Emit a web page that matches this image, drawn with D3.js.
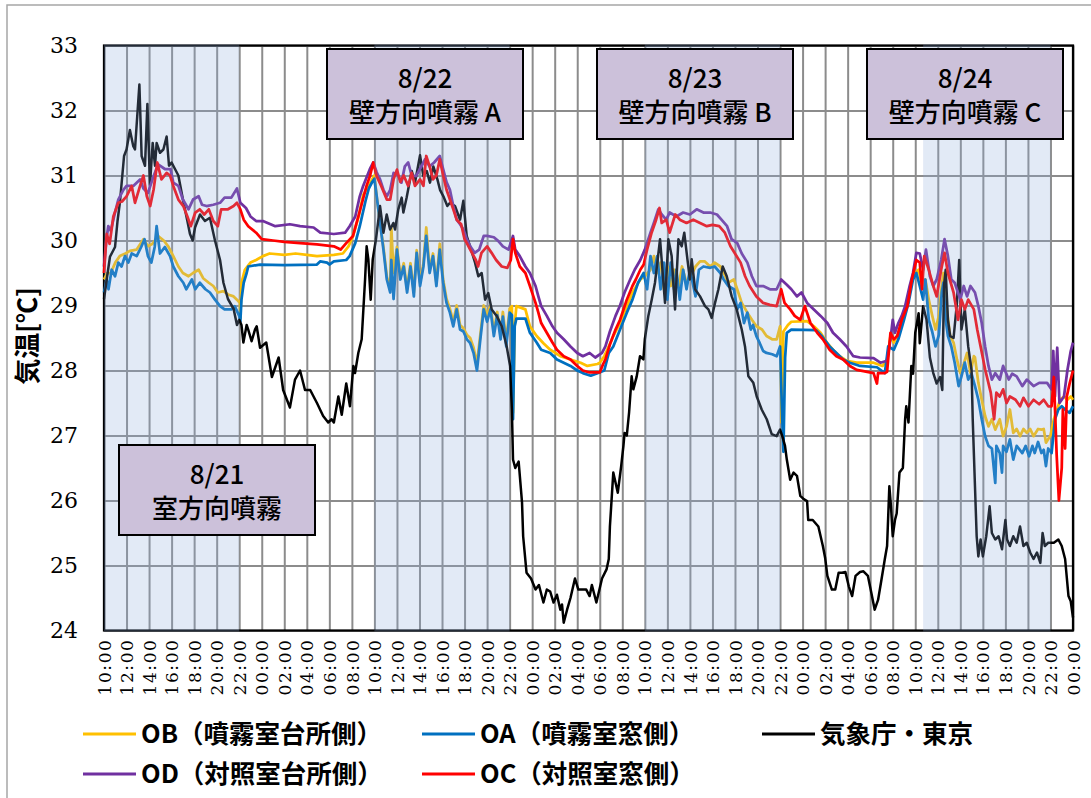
<!DOCTYPE html>
<html>
<head>
<meta charset="utf-8">
<script src="https://cdn.jsdelivr.net/npm/d3@7"></script>
<style>
  html, body { margin: 0; padding: 0; background: #fff; }
  svg { display: block; }
  .serif-label { font-family: "DejaVu Serif", "Liberation Serif", serif; }
</style>
</head>
<body>
<svg id="chart" width="1091" height="798"></svg>
<script>
// Hours are counted from 8/21 10:00; temperatures in °C.
const startTime = new Date(2021, 7, 21, 10, 0);
const spanHours = 86;

const yTicks = [24, 25, 26, 27, 28, 29, 30, 31, 32, 33];

// Spray periods (hours from start)
const sprayPeriods = [[0, 12], [24, 36], [48, 60], [72.7, 84]];

const noteDates = ["8/21", "8/22", "8/23", "8/24"];
const noteLabels = ["室方向噴霧", "壁方向噴霧 A", "壁方向噴霧 B", "壁方向噴霧 C"];

const seriesNames = ["OB（噴霧室台所側）", "OA（噴霧室窓側）", "気象庁・東京", "OD（対照室台所側）", "OC（対照室窓側）"];
const seriesColors = ["#FFC000", "#0070C0", "#000000", "#7030A0", "#FF0000"];

// OB: spray room, kitchen side
const tempOB = [
[0,29.4],[0.3,29.5],[0.6,29.5],[1.0,29.66],[1.4,29.76],[1.9,29.8],[2.3,29.84],[2.9,29.86],[3.5,30.02],[3.9,29.91],[4.3,29.95],[4.8,30.07],[5.3,30.0],[5.7,29.91],[6.15,29.76],[6.6,29.6],[7.0,29.5],[7.5,29.45],[7.9,29.5],[8.4,29.55],[8.8,29.42],[9.3,29.35],[9.7,29.3],[10.1,29.2],[10.6,29.22],[11.0,29.17],[11.5,29.14],[11.8,29.09],[12.05,29.04],[12.1,28.8],[12.2,29.35],[12.5,29.55],[13.0,29.66],[13.5,29.7],[14.1,29.76],[14.7,29.8],[16.0,29.78],[17.0,29.8],[18.0,29.78],[18.9,29.76],[20.4,29.78],[21.2,29.8],[21.7,29.91],[22.1,30.07],[22.6,30.37],[23.0,30.7],[23.5,30.84],[23.8,30.94],[24.0,31.0],[24.2,30.68],[24.5,30.27],[24.8,29.9],[25.1,29.45],[25.4,29.25],[25.5,30.2],[25.7,29.5],[26.0,29.9],[26.3,29.45],[26.6,29.65],[26.9,29.25],[27.2,29.65],[27.5,29.2],[27.75,29.85],[28.05,29.35],[28.35,29.65],[28.6,30.2],[28.9,29.55],[29.2,29.8],[29.5,29.35],[29.8,29.95],[30.1,29.4],[30.4,29.1],[30.7,28.95],[31.0,28.75],[31.3,29.0],[31.6,28.7],[31.9,28.65],[32.2,28.55],[32.5,28.5],[32.8,28.35],[33.1,28.1],[33.4,28.55],[33.7,29.0],[34.0,28.85],[34.3,29.0],[34.6,28.6],[34.9,28.9],[35.2,28.55],[35.4,28.9],[35.7,28.45],[36.0,28.95],[36.2,28.99],[36.3,27.35],[36.45,28.7],[36.6,28.99],[37.4,28.94],[37.8,28.68],[38.4,28.53],[39.0,28.42],[39.6,28.32],[40.5,28.22],[41.4,28.17],[42.3,28.12],[42.9,28.07],[43.8,28.1],[44.0,28.12],[44.4,28.22],[44.8,28.37],[45.2,28.53],[45.8,28.73],[46.4,28.99],[46.9,29.2],[47.6,29.4],[48.0,29.45],[48.5,29.55],[48.8,29.76],[49.1,29.5],[49.4,29.66],[49.7,29.25],[50.0,29.6],[50.3,29.3],[50.6,29.55],[51.0,29.3],[51.3,29.6],[51.7,29.35],[52.2,29.5],[52.5,29.6],[52.9,29.68],[53.3,29.68],[53.8,29.6],[54.2,29.66],[54.7,29.6],[55.0,29.5],[55.4,29.35],[55.9,29.4],[56.2,29.25],[56.6,29.04],[57.1,28.89],[57.5,28.78],[57.9,28.68],[58.4,28.63],[58.8,28.53],[59.3,28.48],[59.7,28.48],[60.0,28.68],[60.15,27.2],[60.3,28.6],[60.7,28.7],[61.0,28.75],[62.4,28.76],[63.0,28.68],[63.6,28.58],[64.2,28.42],[64.7,28.32],[65.3,28.22],[65.9,28.15],[66.8,28.12],[68.3,28.12],[69.1,28.07],[69.5,28.17],[69.8,28.53],[70.1,28.43],[70.5,28.58],[71.0,28.84],[71.4,29.14],[71.8,29.45],[72.3,29.55],[72.6,29.3],[72.9,29.4],[73.2,29.09],[73.5,28.85],[73.8,28.63],[74.1,28.85],[74.35,29.3],[74.5,29.5],[74.8,28.94],[75.1,28.53],[75.4,28.43],[75.7,28.17],[76.0,27.96],[76.3,28.1],[76.6,28.27],[76.9,27.96],[77.2,28.22],[77.3,28.2],[77.6,27.81],[77.9,27.55],[78.2,27.3],[78.5,27.14],[78.8,27.25],[79.1,27.09],[79.5,27.25],[79.8,26.99],[80.1,27.14],[80.4,27.4],[80.7,27.04],[81.0,27.1],[81.3,26.99],[81.6,27.1],[81.9,27.04],[82.2,27.1],[82.5,26.99],[82.9,27.1],[83.2,27.09],[83.4,27.1],[83.6,26.89],[84.0,27.0],[84.3,27.25],[84.6,27.4],[84.85,27.55],[85.2,27.6],[85.5,27.55],[85.8,27.6],[86.0,27.55]
];

// OA: spray room, window side
const tempOA = [
[0,29.2],[0.24,29.4],[0.4,29.25],[0.68,29.55],[0.98,29.45],[1.27,29.66],[1.56,29.6],[1.86,29.76],[2.16,29.66],[2.46,29.8],[2.9,29.76],[3.3,29.9],[3.6,30.02],[3.9,29.76],[4.2,29.66],[4.5,29.9],[4.67,30.22],[4.97,29.8],[5.4,29.9],[5.86,29.76],[6.15,29.6],[6.6,29.45],[7.04,29.35],[7.3,29.25],[7.8,29.4],[8.1,29.25],[8.5,29.35],[9.0,29.25],[9.4,29.2],[9.85,29.09],[10.3,28.99],[10.7,28.94],[11.3,28.94],[11.6,28.99],[12.0,28.84],[12.1,28.75],[12.2,29.09],[12.4,29.35],[12.66,29.5],[12.8,29.6],[13.85,29.63],[16.0,29.62],[18.9,29.63],[19.2,29.68],[19.8,29.66],[20.0,29.63],[20.4,29.68],[21.5,29.7],[21.8,29.76],[22.3,29.96],[22.7,30.22],[23.2,30.6],[23.5,30.8],[23.8,30.9],[24.0,30.95],[24.2,30.68],[24.5,30.27],[24.8,29.86],[25.1,29.4],[25.4,29.2],[25.5,29.7],[25.7,29.1],[26.0,29.86],[26.3,29.4],[26.6,29.6],[26.9,29.2],[27.2,29.6],[27.5,29.14],[27.75,29.81],[28.05,29.3],[28.35,29.6],[28.6,30.07],[28.9,29.5],[29.2,29.76],[29.5,29.3],[29.8,29.86],[30.1,29.35],[30.4,29.04],[30.7,28.89],[31.0,28.68],[31.3,28.94],[31.6,28.63],[31.9,28.6],[32.2,28.48],[32.5,28.42],[32.8,28.27],[33.1,28.0],[33.4,28.48],[33.7,28.94],[34.0,28.75],[34.3,28.94],[34.6,28.53],[34.9,28.85],[35.2,28.48],[35.4,28.83],[35.7,28.37],[36.0,28.89],[36.2,28.85],[36.3,27.25],[36.45,28.68],[36.6,28.8],[37.4,28.8],[37.8,28.58],[38.4,28.43],[38.8,28.32],[39.6,28.27],[40.2,28.17],[40.8,28.12],[41.4,28.07],[42.0,28.0],[42.5,27.96],[43.2,27.92],[43.8,27.96],[44.4,28.0],[44.8,28.27],[45.2,28.37],[45.8,28.63],[46.4,28.89],[46.9,29.09],[47.4,29.35],[47.9,29.5],[48.2,29.25],[48.5,29.76],[48.8,29.5],[49.1,29.76],[49.4,29.25],[49.7,29.66],[50.0,29.09],[50.3,29.66],[50.6,29.25],[50.8,29.55],[51.1,29.09],[51.4,29.55],[51.7,29.25],[52.0,29.55],[52.5,29.14],[52.8,29.55],[53.2,29.6],[53.8,29.58],[54.2,29.6],[54.7,29.5],[55.0,29.4],[55.4,29.3],[55.9,29.25],[56.2,28.94],[56.5,29.04],[56.8,28.73],[57.1,28.89],[57.4,28.63],[57.6,28.7],[57.9,28.53],[58.2,28.42],[58.5,28.3],[58.8,28.27],[59.3,28.25],[59.7,28.22],[60.0,28.37],[60.15,27.5],[60.3,26.75],[60.45,28.2],[60.6,28.58],[61.0,28.63],[63.2,28.62],[63.7,28.53],[64.4,28.37],[65.0,28.27],[65.6,28.17],[66.2,28.12],[67.1,28.07],[68.6,28.05],[69.3,27.96],[69.6,28.37],[70.1,28.32],[70.5,28.48],[71.0,28.78],[71.4,29.04],[71.8,29.4],[72.1,29.5],[72.4,29.3],[72.7,29.09],[72.9,29.4],[73.2,28.78],[73.5,28.6],[73.8,28.37],[74.1,28.55],[74.35,29.2],[74.5,29.35],[74.7,28.78],[74.9,28.53],[75.2,28.37],[75.5,28.12],[75.85,27.76],[76.1,27.91],[76.4,28.12],[76.7,27.86],[77.0,27.95],[77.3,27.76],[77.6,27.55],[77.9,27.25],[78.2,26.99],[78.5,26.84],[78.8,26.8],[79.1,26.27],[79.2,26.84],[79.5,26.73],[79.7,26.43],[79.8,26.84],[80.1,26.75],[80.4,26.94],[80.7,26.63],[81.0,26.84],[81.5,26.73],[81.8,26.84],[82.1,26.68],[82.4,26.84],[82.6,26.73],[82.9,26.9],[83.2,26.73],[83.4,26.78],[83.6,26.53],[83.8,26.8],[84.1,26.73],[84.4,27.25],[84.7,27.4],[85.0,27.45],[85.4,27.38],[85.7,27.35],[86.0,27.45]
];

// JMA Tokyo observations
const tempJMA = [
[0,29.1],[0.24,29.4],[0.53,29.75],[0.98,29.9],[1.2,30.3],[1.42,30.6],[1.78,31.3],[2.0,31.4],[2.3,31.7],[2.6,31.45],[2.75,31.4],[3.14,32.4],[3.34,31.3],[3.64,31.15],[3.85,32.1],[4.08,30.85],[4.32,31.5],[4.53,31.15],[4.67,31.5],[4.97,31.35],[5.27,31.4],[5.56,31.6],[5.77,31.15],[6.0,31.2],[6.3,31.1],[6.6,31.0],[7.04,30.6],[7.4,30.3],[7.63,30.1],[7.87,30.0],[8.08,30.2],[8.52,30.4],[8.96,30.3],[9.4,30.35],[9.85,30.0],[10.3,29.7],[10.6,29.35],[11.0,29.1],[11.5,28.95],[11.8,28.7],[12.0,28.78],[12.2,28.7],[12.37,28.43],[12.66,28.7],[12.8,28.63],[13.1,28.45],[13.4,28.63],[13.55,28.68],[13.85,28.35],[14.4,28.43],[14.9,27.9],[15.5,28.2],[15.9,27.7],[16.5,27.43],[16.95,27.86],[17.4,28.0],[17.84,27.7],[18.3,27.7],[18.9,27.5],[19.45,27.3],[19.9,27.2],[20.2,27.25],[20.4,27.2],[20.8,27.6],[21.1,27.32],[21.5,27.8],[21.83,27.45],[22.13,28.07],[22.28,27.96],[22.57,28.27],[22.87,28.48],[23.17,29.4],[23.31,29.91],[23.46,29.71],[23.67,29.09],[23.85,29.71],[24.14,30.02],[24.5,30.53],[24.8,30.12],[25.09,30.4],[25.39,30.17],[25.68,30.27],[25.83,30.17],[26.12,30.48],[26.42,30.66],[26.57,30.43],[26.86,30.66],[27.31,31.07],[27.6,30.89],[28.05,31.31],[28.34,30.99],[28.64,31.07],[28.93,30.89],[29.23,31.14],[29.59,30.94],[29.82,30.78],[30.12,30.68],[30.47,30.53],[30.71,30.58],[31.15,30.53],[31.6,30.32],[31.89,30.61],[32.19,30.07],[32.49,29.91],[32.93,29.66],[33.22,29.45],[33.52,29.5],[33.82,29.09],[34.11,29.19],[34.41,28.94],[34.85,28.84],[35.3,28.68],[35.74,28.37],[36.04,28.07],[36.2,27.4],[36.3,26.63],[36.5,26.5],[36.8,26.6],[37.1,25.97],[37.2,25.45],[37.5,24.89],[37.9,24.8],[38.3,24.63],[38.6,24.7],[39.0,24.43],[39.3,24.63],[39.6,24.6],[39.9,24.43],[40.2,24.55],[40.5,24.32],[40.65,24.4],[40.8,24.12],[41.1,24.32],[41.4,24.5],[41.8,24.8],[42.1,24.63],[42.8,24.63],[43.1,24.53],[43.3,24.7],[43.7,24.43],[44.2,24.8],[44.6,24.94],[44.8,25.1],[44.9,25.6],[45.2,26.43],[45.6,26.12],[45.9,26.53],[46.1,26.84],[46.2,27.04],[46.4,27.0],[46.6,27.35],[46.83,27.91],[46.98,27.71],[47.28,27.91],[47.57,28.22],[47.87,28.17],[48.0,28.48],[48.31,28.84],[48.61,29.09],[48.9,29.35],[49.35,30.02],[49.79,29.04],[50.09,30.02],[50.38,29.76],[50.68,28.94],[50.98,30.02],[51.27,29.91],[51.5,30.12],[51.78,29.71],[52.0,29.4],[52.16,29.71],[52.46,29.25],[52.9,29.14],[53.34,28.99],[53.64,28.94],[53.93,28.81],[54.23,29.04],[54.53,29.25],[54.91,29.6],[55.27,29.45],[55.71,29.14],[56.15,28.94],[56.6,28.63],[56.89,28.37],[57.19,27.91],[57.63,27.81],[57.93,27.6],[58.37,27.4],[58.82,27.25],[59.26,27.02],[59.7,26.99],[60.0,27.09],[60.2,26.99],[60.44,26.84],[60.6,26.63],[60.9,26.32],[61.2,26.43],[61.5,26.38],[61.8,26.07],[62.1,26.02],[62.4,25.99],[62.5,25.7],[62.9,25.7],[63.4,25.6],[63.8,25.3],[64.0,25.12],[64.2,24.84],[64.6,24.63],[64.9,24.63],[65.2,24.89],[65.5,24.89],[65.8,24.9],[66.1,24.68],[66.4,24.53],[66.7,24.84],[67.1,24.9],[67.4,24.91],[67.8,24.84],[68.1,24.58],[68.4,24.32],[68.7,24.47],[69.0,24.78],[69.3,25.1],[69.5,25.3],[69.7,26.22],[69.85,25.9],[70.0,25.45],[70.2,25.7],[70.35,25.8],[70.6,26.43],[70.9,26.5],[71.1,27.25],[71.2,27.45],[71.4,27.2],[71.65,28.07],[71.8,27.95],[72.0,28.58],[72.3,28.88],[72.4,28.42],[72.7,28.99],[73.0,28.78],[73.3,28.2],[73.6,27.96],[73.9,27.8],[74.2,27.9],[74.4,27.7],[74.55,29.3],[74.7,29.55],[74.9,28.78],[75.1,28.53],[75.4,28.5],[75.7,29.04],[75.9,29.7],[76.1,28.63],[76.4,28.94],[76.7,28.37],[77.0,28.0],[77.1,27.25],[77.3,26.22],[77.45,25.45],[77.6,25.14],[77.8,25.4],[78.0,25.14],[78.3,25.45],[78.6,25.91],[78.8,25.5],[79.1,25.4],[79.4,25.45],[79.7,25.25],[80.0,25.7],[80.15,25.4],[80.4,25.3],[80.7,25.45],[81.0,25.35],[81.3,25.6],[81.6,25.3],[81.9,25.35],[82.2,25.2],[82.5,25.1],[82.8,25.2],[83.1,25.04],[83.3,25.5],[83.5,25.3],[83.8,25.35],[84.3,25.35],[84.7,25.4],[85.0,25.3],[85.3,25.1],[85.6,24.53],[85.8,24.45],[86.0,24.2]
];

// OD: control room, kitchen side
const tempOD = [
[0,29.6],[0.2,30.0],[0.38,30.22],[0.6,30.15],[0.98,30.43],[1.27,30.63],[1.72,30.78],[2.0,30.84],[2.6,30.84],[3.2,30.94],[3.5,30.8],[3.9,30.73],[4.4,30.99],[4.8,31.17],[5.4,31.1],[5.9,31.1],[6.15,30.89],[6.6,30.84],[7.0,30.63],[7.5,30.48],[7.9,30.63],[8.4,30.68],[8.7,30.55],[9.1,30.53],[9.7,30.55],[10.3,30.58],[10.7,30.66],[11.3,30.66],[11.8,30.8],[12.1,30.58],[12.6,30.5],[13.0,30.37],[13.5,30.3],[14.1,30.3],[15.2,30.22],[16.5,30.25],[17.4,30.22],[18.6,30.2],[19.2,30.12],[20.4,30.1],[21.4,30.12],[21.8,30.22],[22.3,30.37],[22.7,30.68],[23.0,30.84],[23.6,31.1],[23.9,31.2],[24.2,31.05],[24.5,30.94],[24.8,30.78],[25.1,30.68],[25.4,30.78],[25.7,31.04],[26.1,31.0],[26.4,30.89],[26.7,31.14],[27.0,31.2],[27.3,31.0],[27.7,30.99],[28.2,31.15],[28.5,31.25],[28.9,31.14],[29.3,31.2],[29.8,31.3],[30.1,31.1],[30.4,30.9],[30.7,30.78],[31.0,30.53],[31.3,30.32],[31.6,30.25],[31.9,30.17],[32.2,30.02],[32.5,29.91],[32.9,29.81],[33.3,29.86],[33.7,30.07],[34.0,30.07],[34.6,30.05],[35.0,29.99],[35.4,29.91],[35.9,29.86],[36.3,30.07],[36.5,29.86],[36.9,29.76],[37.4,29.6],[37.8,29.5],[38.3,29.3],[38.55,29.14],[38.8,28.99],[39.3,28.84],[39.8,28.68],[40.2,28.58],[40.8,28.48],[41.4,28.37],[42.0,28.27],[42.5,28.22],[43.1,28.27],[43.6,28.2],[44.2,28.27],[44.5,28.37],[44.9,28.6],[45.4,28.84],[45.8,29.0],[46.2,29.2],[46.7,29.4],[47.1,29.55],[47.6,29.7],[48.0,29.86],[48.5,30.12],[48.8,30.27],[49.2,30.48],[49.5,30.4],[49.9,30.32],[50.2,30.43],[50.8,30.37],[51.4,30.43],[52.0,30.4],[52.6,30.48],[53.2,30.43],[53.8,30.43],[54.4,30.4],[54.8,30.32],[55.3,30.22],[55.7,30.02],[56.2,29.96],[56.6,29.8],[57.1,29.66],[57.5,29.45],[57.9,29.3],[58.5,29.3],[59.1,29.25],[59.7,29.25],[60.1,29.4],[60.6,29.32],[61.0,29.25],[61.5,29.14],[61.9,29.2],[62.4,29.04],[63.0,28.94],[63.6,28.84],[64.2,28.73],[64.7,28.58],[65.3,28.48],[65.9,28.37],[66.5,28.22],[67.1,28.2],[68.3,28.19],[68.9,28.12],[69.5,28.15],[69.8,28.48],[70.0,28.78],[70.2,28.58],[70.5,28.73],[70.8,28.84],[71.1,28.99],[71.5,29.3],[71.8,29.5],[72.1,29.81],[72.4,29.8],[72.7,29.55],[72.95,29.86],[73.3,29.45],[73.6,29.3],[73.9,29.4],[74.3,29.7],[74.6,30.02],[74.9,29.76],[75.2,29.4],[75.5,29.35],[76.0,29.09],[76.3,29.3],[76.6,29.14],[76.9,29.3],[77.3,29.2],[77.6,28.99],[77.9,28.73],[78.2,28.37],[78.5,28.07],[78.8,27.86],[79.1,27.96],[79.5,27.86],[79.8,28.07],[80.3,27.86],[80.6,27.95],[81.0,27.91],[81.5,27.76],[81.9,27.86],[82.5,27.76],[83.0,27.81],[83.7,27.81],[84.1,27.71],[84.25,28.3],[84.4,27.6],[84.6,28.35],[84.8,27.5],[85.2,27.6],[85.5,28.0],[85.8,28.3],[86.0,28.43]
];

// OC: control room, window side
const tempOC = [
[0,29.5],[0.24,30.1],[0.5,29.95],[0.83,30.37],[1.27,30.58],[1.6,30.6],[2.0,30.68],[2.46,30.84],[2.75,30.58],[3.2,30.84],[3.5,31.0],[3.8,30.68],[4.1,30.53],[4.4,30.78],[4.73,31.2],[5.1,30.94],[5.56,31.04],[5.86,31.0],[6.15,30.84],[6.6,30.63],[7.04,30.53],[7.4,30.37],[7.7,30.22],[8.1,30.43],[8.5,30.48],[8.9,30.4],[9.3,30.48],[9.7,30.3],[10.1,30.22],[10.4,30.48],[11.0,30.48],[11.5,30.53],[11.8,30.58],[12.1,30.48],[12.4,30.32],[12.8,30.22],[13.5,30.12],[14.0,30.02],[15.0,30.0],[16.0,29.98],[17.4,29.96],[18.9,29.94],[20.4,29.91],[21.0,29.86],[21.5,29.96],[22.1,30.07],[22.7,30.45],[23.3,30.84],[23.6,30.99],[23.9,31.2],[24.2,30.99],[24.6,30.84],[25.1,30.63],[25.4,30.63],[25.7,30.94],[26.0,31.09],[26.3,30.9],[26.6,31.0],[27.0,30.84],[27.3,31.04],[27.6,30.84],[28.05,30.94],[28.35,30.84],[28.6,31.3],[28.9,31.14],[29.2,30.94],[29.5,31.0],[29.8,31.25],[30.1,31.0],[30.4,30.78],[30.7,30.63],[31.0,30.48],[31.3,30.32],[31.7,30.25],[32.0,30.02],[32.2,29.96],[32.5,29.86],[33.0,29.7],[33.2,29.6],[33.5,29.81],[34.0,29.91],[34.4,29.81],[34.8,29.7],[35.3,29.6],[35.8,29.58],[36.1,29.7],[36.3,30.02],[36.5,29.81],[36.9,29.6],[37.4,29.5],[37.8,29.3],[38.3,29.04],[38.55,28.89],[38.8,28.73],[39.3,28.58],[39.8,28.43],[40.2,28.32],[40.8,28.22],[41.4,28.17],[42.0,28.07],[42.5,28.0],[43.1,27.97],[44.0,27.97],[44.3,28.1],[44.5,28.17],[44.9,28.4],[45.4,28.63],[45.8,28.78],[46.4,29.09],[46.9,29.3],[47.2,29.4],[47.6,29.55],[47.9,29.63],[48.2,29.86],[48.6,30.12],[49.0,30.32],[49.3,30.5],[49.5,30.27],[49.9,30.32],[50.2,30.12],[50.7,30.4],[51.1,30.32],[51.7,30.27],[52.3,30.32],[52.9,30.27],[53.5,30.22],[54.0,30.24],[54.6,30.22],[55.1,30.12],[55.6,29.91],[56.0,29.8],[56.5,29.66],[56.9,29.45],[57.3,29.3],[57.9,29.14],[58.5,29.04],[59.1,29.01],[59.7,28.99],[60.1,29.25],[60.4,29.04],[60.9,28.94],[61.3,28.84],[61.8,28.78],[62.2,28.99],[62.7,28.73],[63.3,28.58],[63.8,28.48],[64.4,28.32],[65.0,28.22],[65.6,28.17],[66.2,28.07],[66.8,28.01],[67.4,27.99],[68.3,27.96],[68.6,27.8],[68.7,27.96],[69.3,27.96],[69.5,27.98],[69.8,28.58],[70.1,28.48],[70.4,28.53],[70.8,28.78],[71.3,28.99],[71.7,29.4],[72.1,29.7],[72.4,29.66],[72.6,29.25],[72.8,29.76],[73.2,29.55],[73.6,29.3],[73.9,29.14],[74.3,29.55],[74.6,29.81],[74.9,29.5],[75.4,29.2],[75.8,28.78],[76.1,29.09],[76.4,28.94],[76.7,29.09],[77.2,28.94],[77.5,28.63],[77.8,28.37],[78.2,28.02],[78.7,27.66],[79.0,27.25],[79.2,27.66],[79.5,27.6],[79.8,27.71],[80.1,27.5],[80.4,27.6],[80.9,27.55],[81.3,27.45],[81.6,27.58],[82.05,27.45],[82.5,27.55],[83.0,27.48],[83.4,27.55],[83.8,27.45],[84.1,27.45],[84.3,27.9],[84.55,26.7],[84.75,26.0],[85.0,26.5],[85.1,27.4],[85.3,26.8],[85.45,27.6],[85.7,27.8],[86.0,28.0]
];

// Drawn in this order; the red control-room trace ends up on top.
const seriesData = [tempOB, tempOA, tempJMA, tempOD, tempOC];

const at = h => new Date(startTime.getTime() + h * 3600 * 1000);

const svg = d3.select("#chart");
const plot = { left: 104, right: 1073, top: 45.5, bottom: 630.5 };

const x = d3.scaleTime().domain([at(0), at(spanHours)]).range([plot.left, plot.right]);
const y = d3.scaleLinear().domain([d3.min(yTicks), d3.max(yTicks)]).range([plot.bottom, plot.top]);

const gothic = "Noto Sans CJK JP";

// Outer chart frame
svg.append("rect")
  .attr("x", 7).attr("y", 5).attr("width", 1110).attr("height", 830)
  .attr("fill", "#fff").attr("stroke", "#a6a6a6").attr("stroke-width", 1.5);

// Gridlines
svg.append("g")
  .attr("transform", `translate(0,${plot.bottom})`)
  .call(d3.axisBottom(x).ticks(d3.timeHour.every(2)).tickSize(-(plot.bottom - plot.top)).tickFormat(""))
  .call(g => {
    g.select(".domain").remove();
    g.selectAll(".tick line").attr("stroke", "#8c8c8c").attr("stroke-width", 2);
  });
svg.append("g")
  .attr("transform", `translate(${plot.left},0)`)
  .call(d3.axisLeft(y).tickValues(yTicks).tickSize(-(plot.right - plot.left)).tickFormat(""))
  .call(g => {
    g.select(".domain").remove();
    g.selectAll(".tick line").attr("stroke", "#8c8c8c").attr("stroke-width", 2);
  });

// Plot border
svg.append("rect")
  .attr("x", plot.left).attr("y", plot.top)
  .attr("width", plot.right - plot.left).attr("height", plot.bottom - plot.top)
  .attr("fill", "none").attr("stroke", "#000").attr("stroke-width", 2.25);

// Temperature traces
const line = d3.line()
  .x(d => x(at(d[0])))
  .y(d => y(d[1]));

svg.append("g").selectAll("path")
  .data(seriesData)
  .join("path")
  .attr("d", line)
  .attr("fill", "none")
  .attr("stroke", (d, i) => seriesColors[i])
  .attr("stroke-width", (d, i) => i === 2 ? 2.5 : 2.75)
  .attr("stroke-linejoin", "round");

// Translucent shading over the spray periods
svg.append("g").selectAll("rect")
  .data(sprayPeriods)
  .join("rect")
  .attr("x", d => x(at(d[0])))
  .attr("y", plot.top - 1)
  .attr("width", d => x(at(d[1])) - x(at(d[0])))
  .attr("height", plot.bottom - plot.top + 2)
  .attr("fill", "rgb(141,170,220)")
  .attr("fill-opacity", 0.25);

// Day / condition notes
const noteBoxes = noteDates.map((d, i) => ({
  date: d,
  label: noteLabels[i],
  cx: i === 0 ? 217 : 425 + (i - 1) * 270,
  top: i === 0 ? 445 : 49
}));
const notes = svg.append("g")
  .attr("font-family", gothic).attr("font-size", 26).attr("font-weight", 500)
  .selectAll("g")
  .data(noteBoxes)
  .join("g")
  .attr("transform", d => `translate(${d.cx},${d.top})`);
notes.append("rect")
  .attr("x", -98).attr("y", 0).attr("width", 196).attr("height", 90)
  .attr("fill", "#CCC1DA").attr("stroke", "#000").attr("stroke-width", 2);
notes.append("text")
  .attr("y", 29.5).attr("dy", "0.35em")
  .attr("text-anchor", "middle")
  .text(d => d.date);
notes.append("text")
  .attr("y", 64).attr("dy", "0.35em")
  .attr("text-anchor", "middle")
  .text(d => d.label);

// Y axis labels
svg.append("g")
  .attr("transform", `translate(${plot.left},0)`)
  .call(d3.axisLeft(y).tickValues(yTicks).tickSize(0).tickPadding(26).tickFormat(d3.format("d")))
  .call(g => {
    g.select(".domain").remove();
    g.attr("font-family", null).attr("font-size", null);
    g.selectAll("text").attr("fill", "#000")
      .attr("class", "serif-label")
      .attr("font-size", 22);
  });

// X axis labels (rotated)
svg.append("g")
  .attr("transform", `translate(0,${plot.bottom})`)
  .call(d3.axisBottom(x).ticks(d3.timeHour.every(2)).tickSize(0).tickFormat(d3.timeFormat("%H:%M")))
  .call(g => {
    g.select(".domain").remove();
    g.attr("font-family", null).attr("font-size", null);
    g.selectAll("text")
      .attr("fill", "#000")
      .attr("class", "serif-label")
      .attr("transform", "rotate(-90)")
      .attr("x", -8).attr("y", 0).attr("dy", "0.36em")
      .attr("text-anchor", "end")
      .attr("font-size", 17)
      .attr("letter-spacing", 1.6);
  });

// Y axis title
svg.append("text")
  .attr("transform", "translate(28,336) rotate(-90)")
  .attr("text-anchor", "middle").attr("dy", "0.35em")
  .attr("font-family", gothic).attr("font-size", 26).attr("font-weight", 700)
  .text("気温[℃]");

// Legend: two rows, three columns
const legendSlots = [
  { col: 0, row: 0 }, { col: 1, row: 0 }, { col: 2, row: 0 },
  { col: 0, row: 1 }, { col: 1, row: 1 }
];
const colX = [83, 422, 762];
const rowY = [734, 774];
const legend = svg.append("g")
  .attr("font-family", gothic).attr("font-size", 25.5).attr("font-weight", 700)
  .selectAll("g")
  .data(seriesNames.map((n, i) => ({ name: n, color: seriesColors[i], slot: legendSlots[i] })))
  .join("g")
  .attr("transform", d => `translate(${colX[d.slot.col]},${rowY[d.slot.row]})`);
legend.append("line")
  .attr("x1", 0).attr("x2", 53).attr("y1", 0).attr("y2", 0)
  .attr("stroke", d => d.color).attr("stroke-width", 3);
legend.append("text")
  .attr("x", 58).attr("dy", "0.36em")
  .text(d => d.name);
</script>
</body>
</html>
